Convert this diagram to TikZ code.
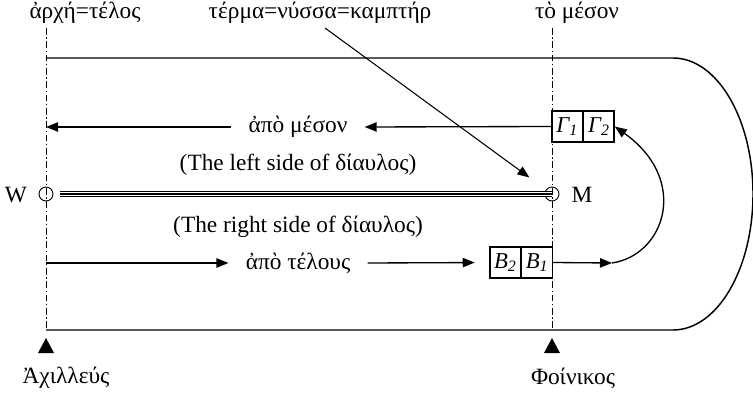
\documentclass[tikz,border=0pt]{standalone}
\usepackage{fontspec}
\setmainfont{Liberation Serif}
\usetikzlibrary{arrows.meta, calc}

\begin{document}
\begin{tikzpicture}[x=0.75pt, y=-0.75pt, >={Triangle[length=9pt, width=7pt]}, line width=1pt,
  axe/.style={line width=0.7pt, dash pattern=on 5pt off 2pt on 1pt off 2pt},
  cell/.style={draw, line width=1pt, minimum width=22.8pt, minimum height=23.2pt, inner sep=0pt, font=\fontsize{17}{19}\selectfont\itshape},
  pin/.style={draw, circle, minimum size=10.5pt, inner sep=0pt, line width=0.7pt},
  txt/.style={font=\fontsize{17.5}{20}\selectfont},
  way/.style={txt, inner xsep=12.5pt, inner ysep=0pt}]
  \useasboundingbox (0,0) rectangle (753,395);
  % --- top labels ---
  \node[txt, anchor=base] (arche) at (85,18.5) {ἀρχή=τέλος};
  \node[txt, anchor=base] (terma) at (320,18.5) {τέρμα=νύσσα=καμπτήρ};
  \node[txt, anchor=base] (meson) at (577,18.5) {τὸ μέσον};
  % --- track and the two posts ---
  \draw[line width=1.1pt] (46,58) -- (673,58) arc[start angle=-90, end angle=90, x radius=80, y radius=136] -- (46,330);
  \draw[axe] (46,28) -- (46,330);
  \draw[axe] (552,28) -- (552,330);
  \node[pin] (w) at (46,194) {};
  \node[pin] (m) at (552,194) {};
  \node[txt] (wl) at (16,195) {W};
  \node[txt] (ml) at (582,195) {M};
  \coordinate (wend) at (60,194);
  \draw[double, double distance=3.5pt, line width=0.75pt] (wend) -- (m.center);
  \draw[line width=1.5pt] (wend) -- (m.center);
  \node[txt] (lside) at (298,165) {(The left side of δίαυλος)};
  \node[txt] (rside) at (298,227) {(The right side of δίαυλος)};
  % --- boxes ---
  \node[cell] (g1) at (567.2,126.5) {Γ\textsubscript{1}};
  \node[cell, anchor=west] (g2) at (g1.east) {Γ\textsubscript{2}};
  \node[cell] (b1) at (537,262.5) {B\textsubscript{1}};
  \node[cell, anchor=east] (b2) at (b1.west) {B\textsubscript{2}};
  % --- running directions ---
  \node[way] (apomes) at (298,127) {ἀπὸ μέσον};
  \coordinate (lt) at (46,127);
  \draw[->] (g1.west) -- (apomes.east);
  \draw[->] (apomes.west) -- (lt);
  \node[way] (apotel) at (298,263) {ἀπὸ τέλους};
  \coordinate (lb) at (46,263);
  \draw[->] (lb) -- (apotel.west);
  \draw[->, shorten >=11pt] (apotel.east) -- (b2.west);
  \coordinate (turn) at (612,263);
  \draw[->] (b1.east) -- (turn);
  \draw[->] (turn) .. controls (665,255) and (690,180) .. (g2.east);
  % --- pointer to the turning post ---
  \coordinate (ts) at (325,28);
  \draw[->, line width=0.8pt, shorten >=21pt] (ts) -- (m.center);
  % --- the two runners ---
  \fill (46,338) -- (54,353) -- (38,353) -- cycle;
  \fill (552,338) -- (560,353) -- (544,353) -- cycle;
  \node[txt] (achil) at (66,378) {Ἀχιλλεύς};
  \node[txt] (phoin) at (573,378) {Φοίνικος};
\end{tikzpicture}
\end{document}
